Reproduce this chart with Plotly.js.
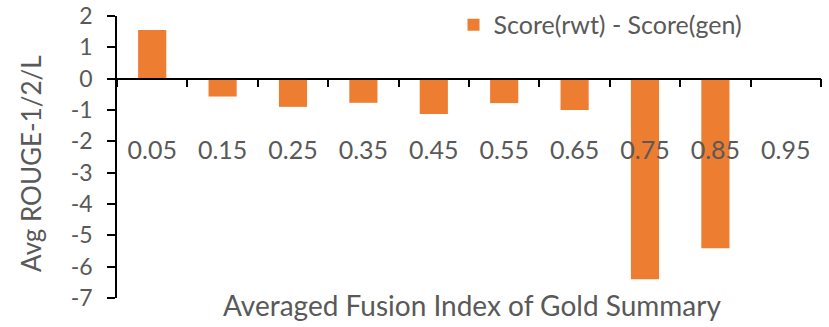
<!DOCTYPE html>
<html>
<head>
<meta charset="utf-8">
<script src="https://cdn.plot.ly/plotly-3.0.1.min.js"></script>
<style>
  html, body { margin: 0; padding: 0; background: #fff; }
  #chart { width: 829px; height: 327px; }
</style>
</head>
<body>
<div id="chart"></div>
<script>
// fusion index buckets and score differences
const categories = ['0.05', '0.15', '0.25', '0.35', '0.45', '0.55', '0.65', '0.75', '0.85', '0.95'];
const scoreDiff = [1.55, -0.57, -0.9, -0.77, -1.13, -0.78, -1.0, -6.4, -5.41, 0];
const seriesName = 'Score(rwt) - Score(gen)';
const yTicks = [2, 1, 0, -1, -2, -3, -4, -5, -6, -7];
const xTitle = 'Averaged Fusion Index of Gold Summary';
const yTitle = 'Avg ROUGE-1/2/L';

const fontFamily = 'Lato, "Open Sans", sans-serif';
const textColor = '#595959';

const trace = {
  x: categories,
  y: scoreDiff,
  type: 'bar',
  name: seriesName,
  marker: {color: '#ED7D31'},
  showlegend: true
};

const layout = {
  width: 829,
  height: 327,
  margin: {l: 117, r: 8, t: 16, b: 29, autoexpand: false},
  paper_bgcolor: '#fff',
  plot_bgcolor: '#fff',
  bargap: 0.6,
  font: {family: fontFamily, color: textColor},
  showlegend: true,
  legend: {
    x: 0.478, y: 1.05, xanchor: 'left', yanchor: 'top',
    font: {size: 25, color: textColor},
    bgcolor: 'rgba(0,0,0,0)',
    itemwidth: 30
  },
  xaxis: {
    type: 'category',
    anchor: 'free',
    position: 7 / 9,
    showline: true,
    linecolor: '#000',
    linewidth: 1.5,
    ticks: 'outside',
    tickson: 'boundaries',
    ticklen: 8,
    tickcolor: '#000',
    tickwidth: 1.5,
    ticklabelstandoff: 50,
    tickfont: {size: 25, color: textColor},
    showgrid: false,
    zeroline: false
  },
  yaxis: {
    range: [-7, 2],
    tickvals: yTicks,
    ticktext: yTicks.map(String),
    showline: true,
    linecolor: '#000',
    linewidth: 1.5,
    ticks: 'outside',
    ticklen: 8,
    tickcolor: '#000',
    tickwidth: 1.5,
    ticklabelstandoff: 10,
    tickfont: {size: 23, color: textColor},
    showgrid: false,
    zeroline: false
  },
  annotations: [
    {
      text: xTitle, xref: 'paper', yref: 'paper', x: 0.5036, y: 0,
      xanchor: 'center', yanchor: 'middle', yshift: -7, showarrow: false,
      font: {size: 28, color: textColor}
    },
    {
      text: yTitle, xref: 'paper', yref: 'paper', x: -0.122, y: 0.476,
      xanchor: 'center', yanchor: 'middle', textangle: -90, showarrow: false,
      font: {size: 26, color: textColor}
    }
  ]
};

Plotly.newPlot('chart', [trace], layout, {displayModeBar: false});
</script>
</body>
</html>
